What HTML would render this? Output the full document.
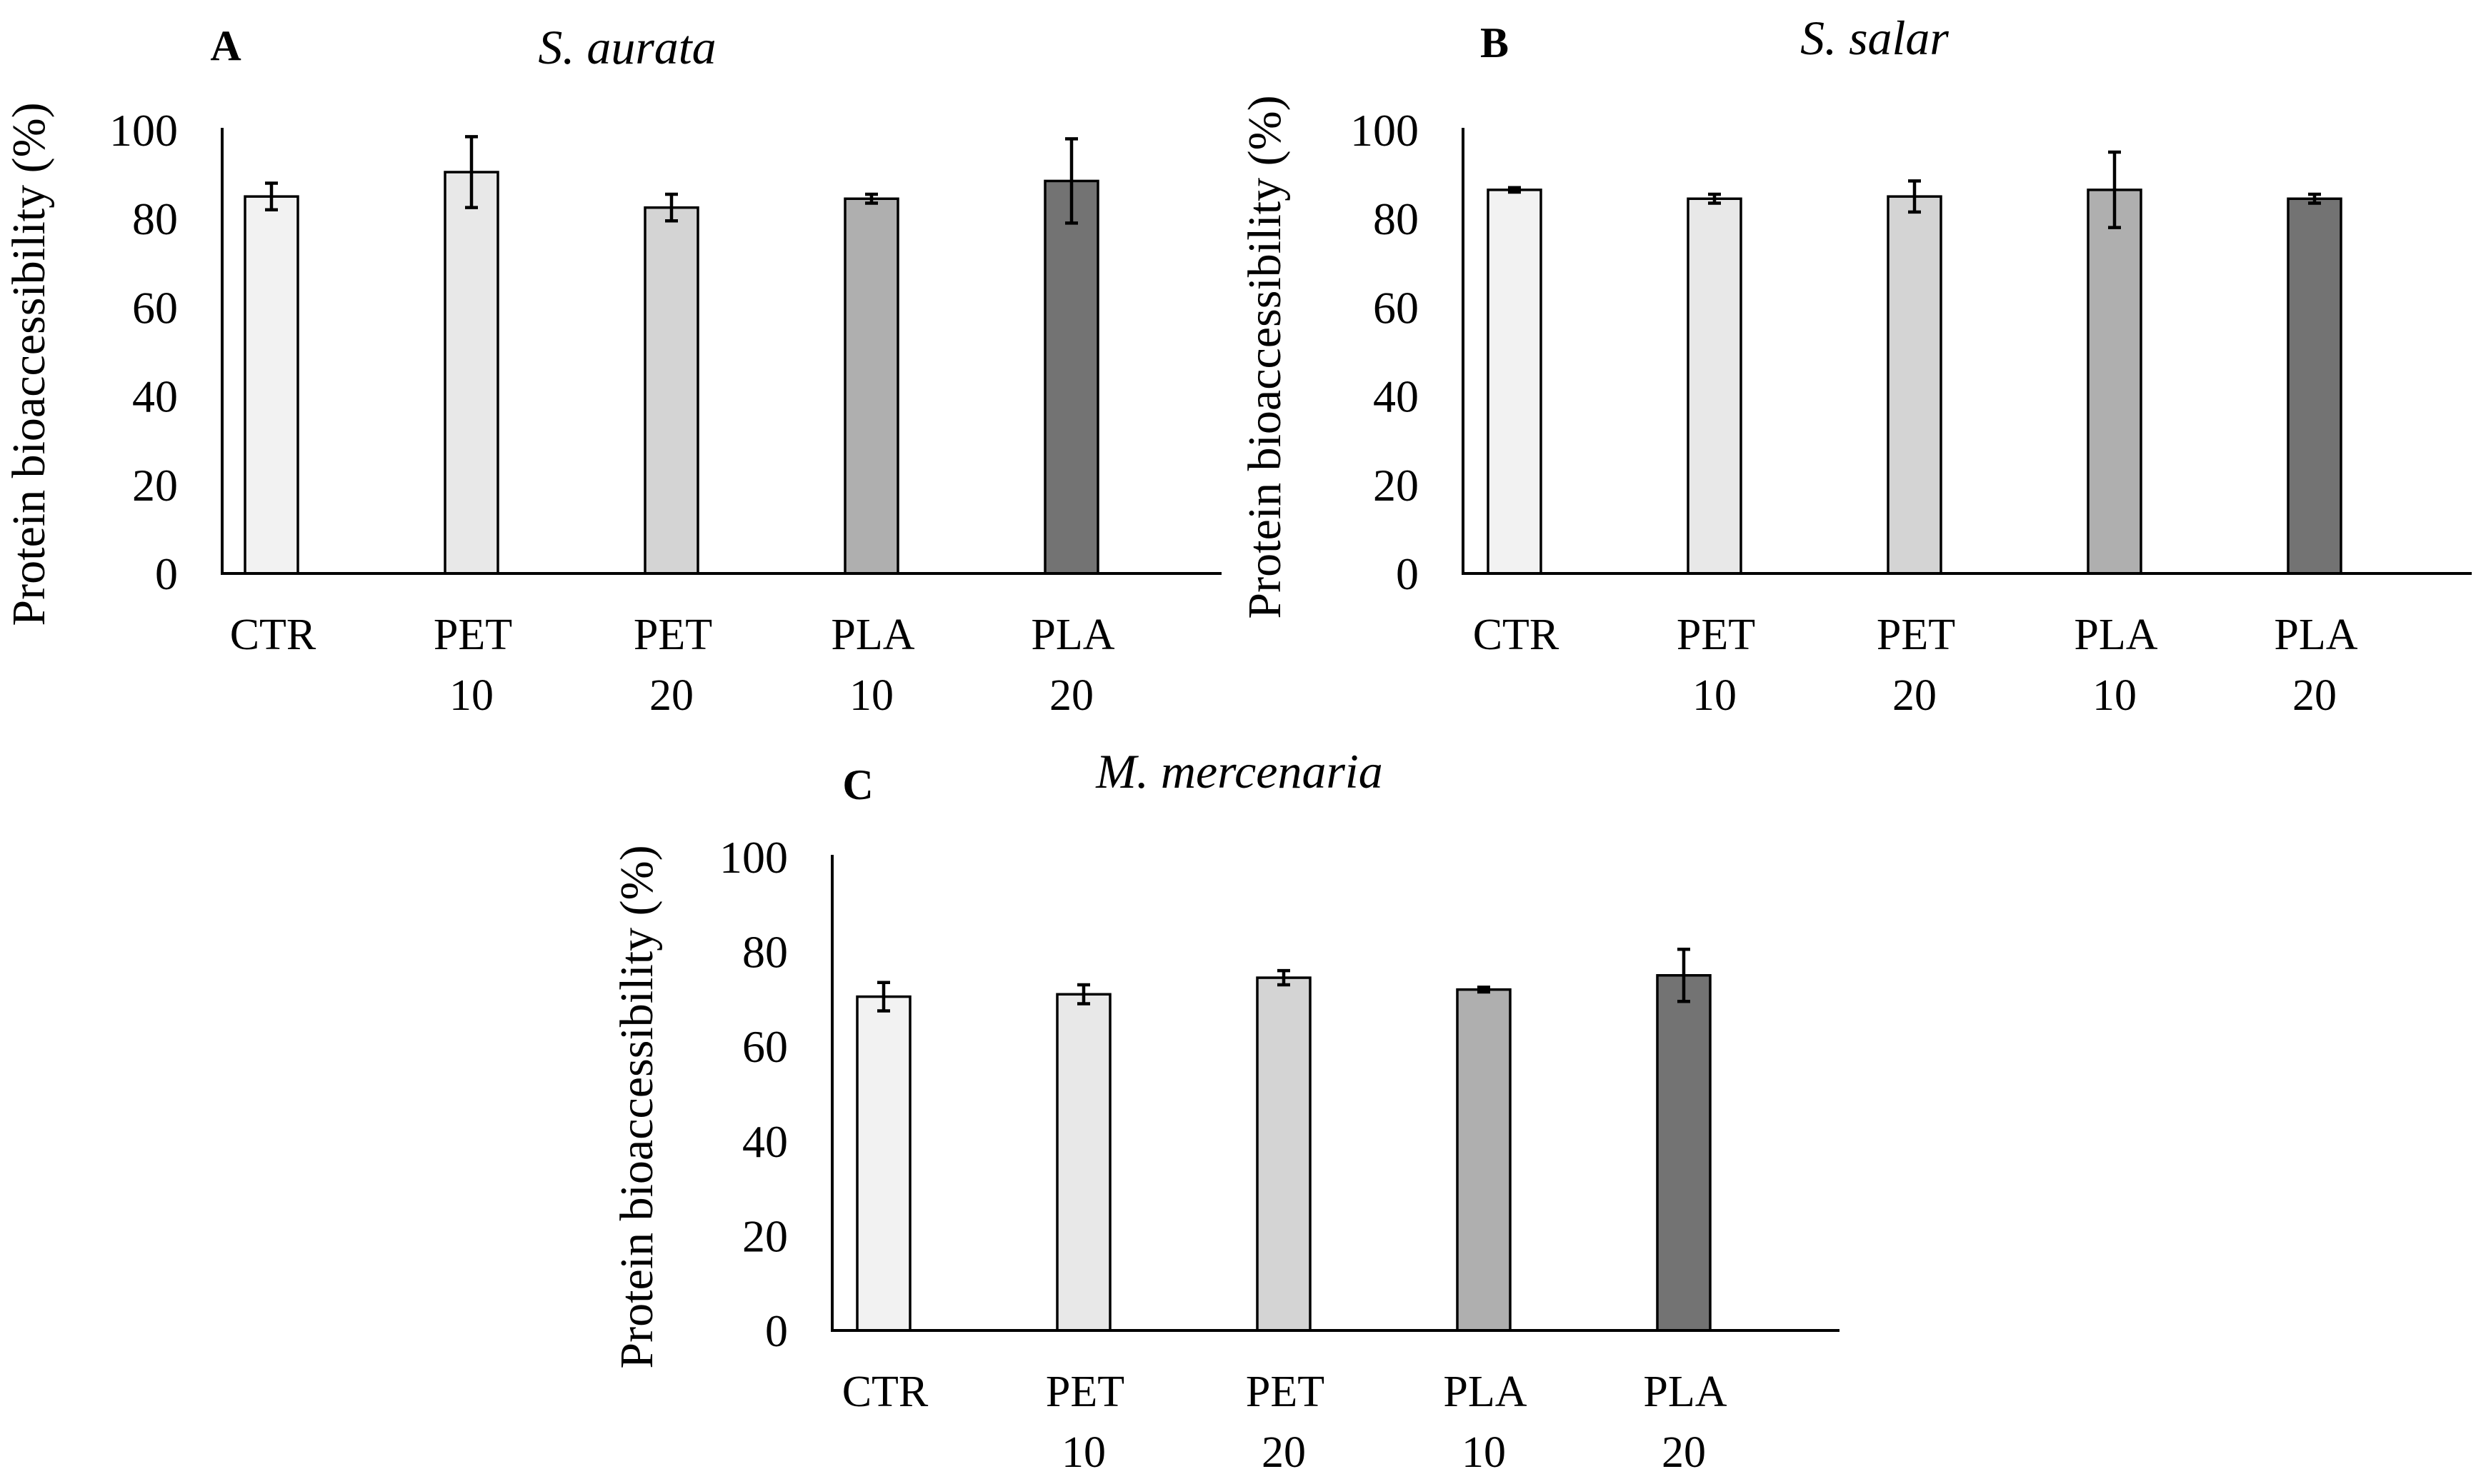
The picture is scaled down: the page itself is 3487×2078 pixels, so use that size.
<!DOCTYPE html>
<html><head><meta charset="utf-8"><style>
html,body{margin:0;padding:0;background:#fff;}
svg{display:block;font-family:"Liberation Serif",serif;}
</style></head><body>
<svg id="fig" width="3487" height="2078" viewBox="0 0 3487 2078"></svg>
<script>
const categories = ["CTR|", "PET|10", "PET|20", "PLA|10", "PLA|20"];
const yTicks = [0, 20, 40, 60, 80, 100];
const valuesA = [85, 90.5, 82.5, 84.5, 88.5];
const errorsA = [3, 8, 3, 1, 9.5];
const valuesB = [86.5, 84.5, 85, 86.5, 84.5];
const errorsB = [0.5, 1, 3.5, 8.5, 1];
const valuesC = [70.5, 71, 74.5, 72, 75];
const errorsC = [3, 2, 1.5, 0.5, 5.5];
const fills = ["#f2f2f2", "#e8e8e8", "#d4d4d4", "#afafaf", "#737373"];

const NS = "http://www.w3.org/2000/svg";
const svg = document.getElementById("fig");
function mk(tag, attrs, parent) {
  const e = document.createElementNS(NS, tag);
  for (const k in attrs) e.setAttribute(k, attrs[k]);
  (parent || svg).appendChild(e);
  return e;
}
function panel(id, letter, title, vals, errs, ax, y0, y100, xend, firstBar, titleX, titleY, letterX, letterY, ytX, ytY) {
  const g = mk("g", {});
  
  
  const yScale = v => y0 - (v / 100) * (y0 - y100);
  const xScale = i => firstBar + i * 280;
  const lt = mk("text", {x: letterX, y: letterY, "font-size": 60, "font-weight": "bold", "text-anchor": "middle"}, g);
  lt.textContent = letter;
  
  
  const tt = mk("text", {x: titleX, y: titleY, "font-size": 68, "font-style": "italic", "text-anchor": "middle"}, g);
  tt.textContent = title;
  
  
  const yt = mk("text", {x: 0, y: 0, "font-size": 66, "text-anchor": "middle", transform: `translate(${ytX},${ytY}) rotate(-90)`}, g);
  yt.textContent = "Protein bioaccessibility (%)";
  
  
  yTicks.forEach(t => {
    const tx = mk("text", {x: ax - 62, y: yScale(t) + 22, "font-size": 64, "text-anchor": "end"}, g);
    tx.textContent = t;
    
    
  });
  vals.forEach((v, i) => {
    const cx = xScale(i), bw = 74;
    const r = mk("rect", {x: cx - bw / 2, y: yScale(v), width: bw, height: y0 - yScale(v), fill: fills[i], stroke: "#000", "stroke-width": 3.5}, g);
    
    
    const e = errs[i], yt1 = yScale(v + e), yb1 = yScale(v - e);
    const eb = mk("path", {d: `M${cx},${yt1}V${yb1}M${cx - 9},${yt1}H${cx + 9}M${cx - 9},${yb1}H${cx + 9}`, stroke: "#000", "stroke-width": 4.5, fill: "none"}, g);
    
    
    const parts = categories[i].split('|');
    const l1 = mk("text", {x: cx + 2, y: y0 + 106, "font-size": 62, "text-anchor": "middle"}, g);
    l1.textContent = parts[0];
    
    
    if (parts[1]) {
      const l2 = mk("text", {x: cx, y: y0 + 191, "font-size": 62, "text-anchor": "middle"}, g);
      l2.textContent = parts[1];
      
      
    }
  });
  const axes = mk("path", {d: `M${ax},${y100 - 3}V${y0}H${xend}`, stroke: "#000", "stroke-width": 4, fill: "none"}, g);
  
  
}
panel("a", "A", "S. aurata", valuesA, errorsA, 311, 803, 182, 1710, 380, 878, 89, 316, 84, 62, 510);
panel("b", "B", "S. salar", valuesB, errorsB, 2048, 803, 182, 3460, 2120, 2624, 76, 2092, 80, 1792, 500);
panel("c", "C", "M. mercenaria", valuesC, errorsC, 1165, 1863, 1200, 2575, 1237, 1735, 1103, 1201, 1119, 913, 1550);
</script>
</body></html>
